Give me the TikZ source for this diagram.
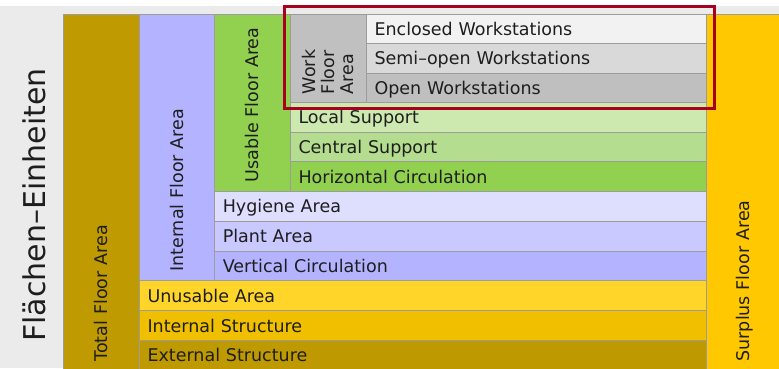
\documentclass[tikz,border=0pt]{standalone}
\usepackage{fontspec}
\setmainfont{DejaVu Sans}
\definecolor{bggray}{HTML}{EBEBEB}
\definecolor{gridline}{HTML}{9C9C9C}
\definecolor{ink}{HTML}{1E1E1E}
\definecolor{frame}{HTML}{A8001F}
\definecolor{cTotal}{HTML}{BF9A00}
\definecolor{cInternal}{HTML}{B3B3FF}
\definecolor{cUsable}{HTML}{92D050}
\definecolor{cWork}{HTML}{C0C0C0}
\definecolor{cEnclosed}{HTML}{F2F2F2}
\definecolor{cSemi}{HTML}{D9D9D9}
\definecolor{cOpen}{HTML}{BFBFBF}
\definecolor{cLocal}{HTML}{CDE9B0}
\definecolor{cCentral}{HTML}{B5DD8F}
\definecolor{cHoriz}{HTML}{92D050}
\definecolor{cHygiene}{HTML}{DEDEFF}
\definecolor{cPlant}{HTML}{C9C9FF}
\definecolor{cVertical}{HTML}{B3B3FF}
\definecolor{cUnusable}{HTML}{FFD52A}
\definecolor{cIntStruct}{HTML}{F0C000}
\definecolor{cExtStruct}{HTML}{BF9900}
\definecolor{cSurplus}{HTML}{FFC800}
\tikzset{
  cell/.style={draw=gridline, line width=1pt, text=ink,
    font=\fontsize{17.5}{19}\selectfont, align=left,
    inner ysep=0pt, inner xsep=8pt, text height=12.8pt, text depth=0pt},
  rowcell/.style={cell, anchor=north west},
  colcell/.style={cell, rotate=90, inner xsep=8.5pt},
  stackcell/.style={draw=gridline, line width=1pt, text=ink, rotate=90,
    font=\fontsize{17.5}{19}\selectfont, align=left,
    inner xsep=8pt, inner ysep=0pt}
}
\begin{document}
\begin{tikzpicture}[x=1pt,y=-1pt]
  \useasboundingbox (0,0) rectangle (779,368);
  \fill[white] (0,0) rectangle (779,6);
  \fill[bggray] (0,6) rectangle (779,368);

  % title
  \node[rotate=90, anchor=base, inner sep=0pt, text=ink,
        font=\fontsize{30}{32}\selectfont] (title) at (45,205) {Flächen–Einheiten};

  % vertical columns
  \node[colcell, fill=cTotal, minimum width=356pt, minimum height=76pt,
        text width=339pt] (total) at (101,192) {Total Floor Area};
  \node[colcell, fill=cInternal, minimum width=266.3pt, minimum height=75.3pt,
        text width=249.3pt] (internal) at (176.65,147.15) {Internal Floor Area};
  \node[colcell, fill=cUsable, minimum width=177pt, minimum height=75.7pt,
        text width=160pt] (usable) at (252.15,102.5) {\mbox{Usable Floor Area}};
  \node[stackcell, fill=cWork, minimum width=88pt, minimum height=76pt,
        text width=72pt] (work) at (328,58) {Work\\Floor\\Area};
  \node[colcell, fill=cSurplus, minimum width=356pt, minimum height=74pt,
        text width=339pt] (surplus) at (743,192) {Surplus Floor Area};

  % workstation rows
  \node[rowcell, fill=cEnclosed, minimum width=340pt, minimum height=29.3pt,
        text width=324pt] (enclosed) at (366,14) {Enclosed Workstations};
  \node[rowcell, fill=cSemi, minimum width=340pt, minimum height=29.3pt,
        text width=324pt] (semiopen) at (366,43.3) {Semi–open Workstations};
  \node[rowcell, fill=cOpen, minimum width=340pt, minimum height=29.4pt,
        text width=324pt] (open) at (366,72.6) {Open Workstations};

  % usable floor rows
  \node[rowcell, fill=cLocal, minimum width=416pt, minimum height=29.6pt,
        text width=400pt] (local) at (290,102) {Local Support};
  \node[rowcell, fill=cCentral, minimum width=416pt, minimum height=29.7pt,
        text width=400pt] (central) at (290,131.6) {Central Support};
  \node[rowcell, fill=cHoriz, minimum width=416pt, minimum height=29.7pt,
        text width=400pt] (horiz) at (290,161.3) {Horizontal Circulation};

  % internal floor rows
  \node[rowcell, fill=cHygiene, minimum width=491.7pt, minimum height=30pt,
        text width=475.7pt] (hygiene) at (214.3,191) {Hygiene Area};
  \node[rowcell, fill=cPlant, minimum width=491.7pt, minimum height=30pt,
        text width=475.7pt] (plant) at (214.3,221) {Plant Area};
  \node[rowcell, fill=cVertical, minimum width=491.7pt, minimum height=29.3pt,
        text width=475.7pt] (vertical) at (214.3,251) {Vertical Circulation};

  % total floor rows
  \node[rowcell, fill=cUnusable, minimum width=567pt, minimum height=30pt,
        text width=551pt] (unusable) at (139,280.3) {Unusable Area};
  \node[rowcell, fill=cIntStruct, minimum width=567pt, minimum height=29.7pt,
        text width=551pt] (intstruct) at (139,310.3) {Internal Structure};
  \node[rowcell, fill=cExtStruct, minimum width=567pt, minimum height=30pt,
        text width=551pt] (extstruct) at (139,340) {External Structure};

  % highlight frame around the work floor area
  \draw[frame, line width=3pt] (284.3,6.5) rectangle (714.7,108);
\end{tikzpicture}
\end{document}
